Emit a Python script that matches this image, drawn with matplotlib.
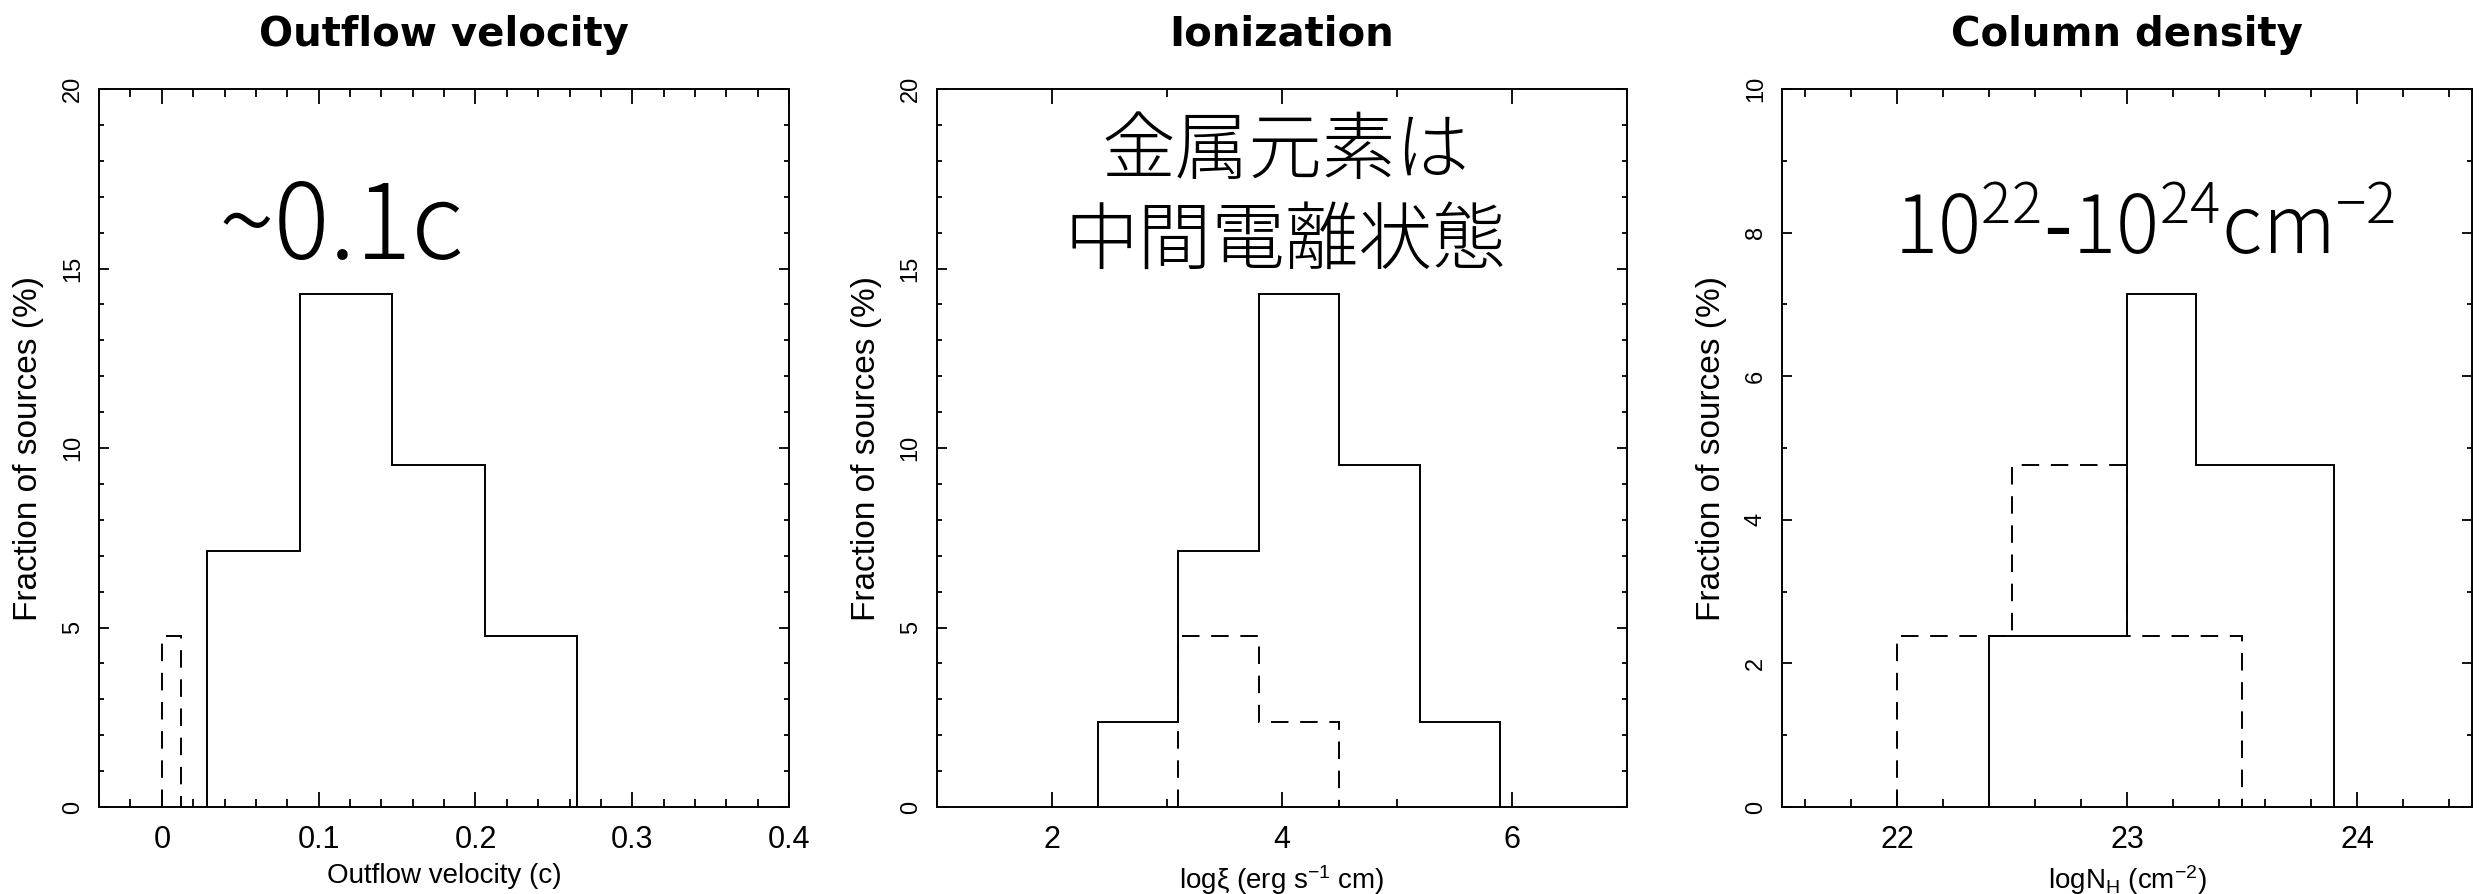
import numpy as np
import matplotlib.pyplot as plt
from matplotlib.ticker import MultipleLocator

plt.rcParams['font.family'] = ['Liberation Sans', 'DejaVu Sans']
plt.rcParams['axes.unicode_minus'] = False

NARROW = ['Liberation Sans Narrow', 'Liberation Sans', 'DejaVu Sans']
JP = ['Noto Sans CJK JP', 'DejaVu Sans']

# 速度分布 (c)
vel_edges = [0.029, 0.088, 0.147, 0.206, 0.265]
vel_frac = [7.14, 14.29, 9.52, 4.76]
vel_edges_dash = [0.0, 0.012]
vel_frac_dash = [4.76]

# 電離パラメータ logξ
xi_edges = [2.4, 3.1, 3.8, 4.5, 5.2, 5.9]
xi_frac = [2.38, 7.14, 14.29, 9.52, 2.38]
xi_edges_dash = [3.1, 3.8, 4.5]
xi_frac_dash = [4.76, 2.38]

# 柱密度 logNH
nh_edges = [22.4, 22.7, 23.0, 23.3, 23.6, 23.9]
nh_frac = [2.38, 2.38, 7.14, 4.76, 4.76]
nh_edges_dash = [22.0, 22.5, 23.0, 23.5]
nh_frac_dash = [2.38, 4.76, 2.38]

panels = [
    dict(title='Outflow velocity', xlabel='Outflow velocity (c)',
         xlim=(-0.04, 0.4), ylim=(0, 20), xmaj=0.1, xmin=0.02, ymaj=5, ymin=1,
         xticks=[0, 0.1, 0.2, 0.3, 0.4], xticklabels=['0', '0.1', '0.2', '0.3', '0.4'],
         solid=(vel_edges, vel_frac), dash=(vel_edges_dash, vel_frac_dash)),
    dict(title='Ionization', xlabel='logξ (erg s$\\mathregular{^{-1}}$ cm)',
         xlim=(1, 7), ylim=(0, 20), xmaj=2, xmin=1, ymaj=5, ymin=1,
         xticks=[2, 4, 6], xticklabels=['2', '4', '6'],
         solid=(xi_edges, xi_frac), dash=(xi_edges_dash, xi_frac_dash)),
    dict(title='Column density', xlabel='log$\\mathregular{N_H}$ (cm$\\mathregular{^{-2}}$)',
         xlim=(21.5, 24.5), ylim=(0, 10), xmaj=1, xmin=0.2, ymaj=2, ymin=1,
         xticks=[22, 23, 24], xticklabels=['22', '23', '24'],
         solid=(nh_edges, nh_frac), dash=(nh_edges_dash, nh_frac_dash)),
]

fig = plt.figure(figsize=(24.9, 8.94), dpi=100)
lefts = [0.0398, 0.3763, 0.7157]
axes = []
for left, p in zip(lefts, panels):
    ax = fig.add_axes([left, 0.0973, 0.2771, 0.8031])
    axes.append(ax)

    e, v = p['dash']
    ax.stairs(v, e, baseline=0, color='black', lw=1.4, linestyle=(0, (9, 6)))
    e, v = p['solid']
    ax.stairs(v, e, baseline=0, color='black', lw=1.4)

    ax.set_xlim(*p['xlim'])
    ax.set_ylim(*p['ylim'])
    ax.xaxis.set_major_locator(MultipleLocator(p['xmaj']))
    ax.xaxis.set_minor_locator(MultipleLocator(p['xmin']))
    ax.yaxis.set_major_locator(MultipleLocator(p['ymaj']))
    ax.yaxis.set_minor_locator(MultipleLocator(p['ymin']))
    ax.set_xticks(p['xticks'])
    ax.set_xticklabels(p['xticklabels'], fontfamily=NARROW, fontsize=22)

    ax.tick_params(which='both', direction='in', top=True, right=True, width=1.3)
    ax.tick_params(axis='x', which='major', length=11, pad=13)
    ax.tick_params(axis='x', which='minor', length=5.8)
    ax.tick_params(axis='y', which='major', length=7.5, pad=11, labelsize=17)
    ax.tick_params(axis='y', which='minor', length=3.8)
    for lbl in ax.get_yticklabels():
        lbl.set_rotation(90)
        lbl.set_va('center')
    for s in ax.spines.values():
        s.set_linewidth(1.4)

    ax.set_xlabel(p['xlabel'], fontfamily=NARROW, fontsize=20, labelpad=6)
    ax.set_ylabel('Fraction of sources (%)', fontsize=24, labelpad=13)
    ax.set_title(p['title'], fontfamily='DejaVu Sans', fontweight='bold',
                 fontsize=29, pad=31)

# 注釈テキスト
axes[0].text(0.351, 0.763, '~0.1c', transform=axes[0].transAxes,
             ha='center', va='baseline', fontsize=75, fontfamily=JP, fontweight='light')
axes[1].text(0.505, 0.911, '金属元素は', transform=axes[1].transAxes,
             ha='center', va='center', fontsize=53, fontfamily=JP, fontweight='light')
axes[1].text(0.505, 0.786, '中間電離状態', transform=axes[1].transAxes,
             ha='center', va='center', fontsize=53, fontfamily=JP, fontweight='light')
axes[2].text(0.525, 0.770, '$\\mathregular{10^{22}\\text{-}10^{24}cm^{-2}}$',
             transform=axes[2].transAxes, ha='center', va='baseline',
             fontsize=58, fontfamily=JP, fontweight='light')

fig.savefig('out.png', dpi=100)
